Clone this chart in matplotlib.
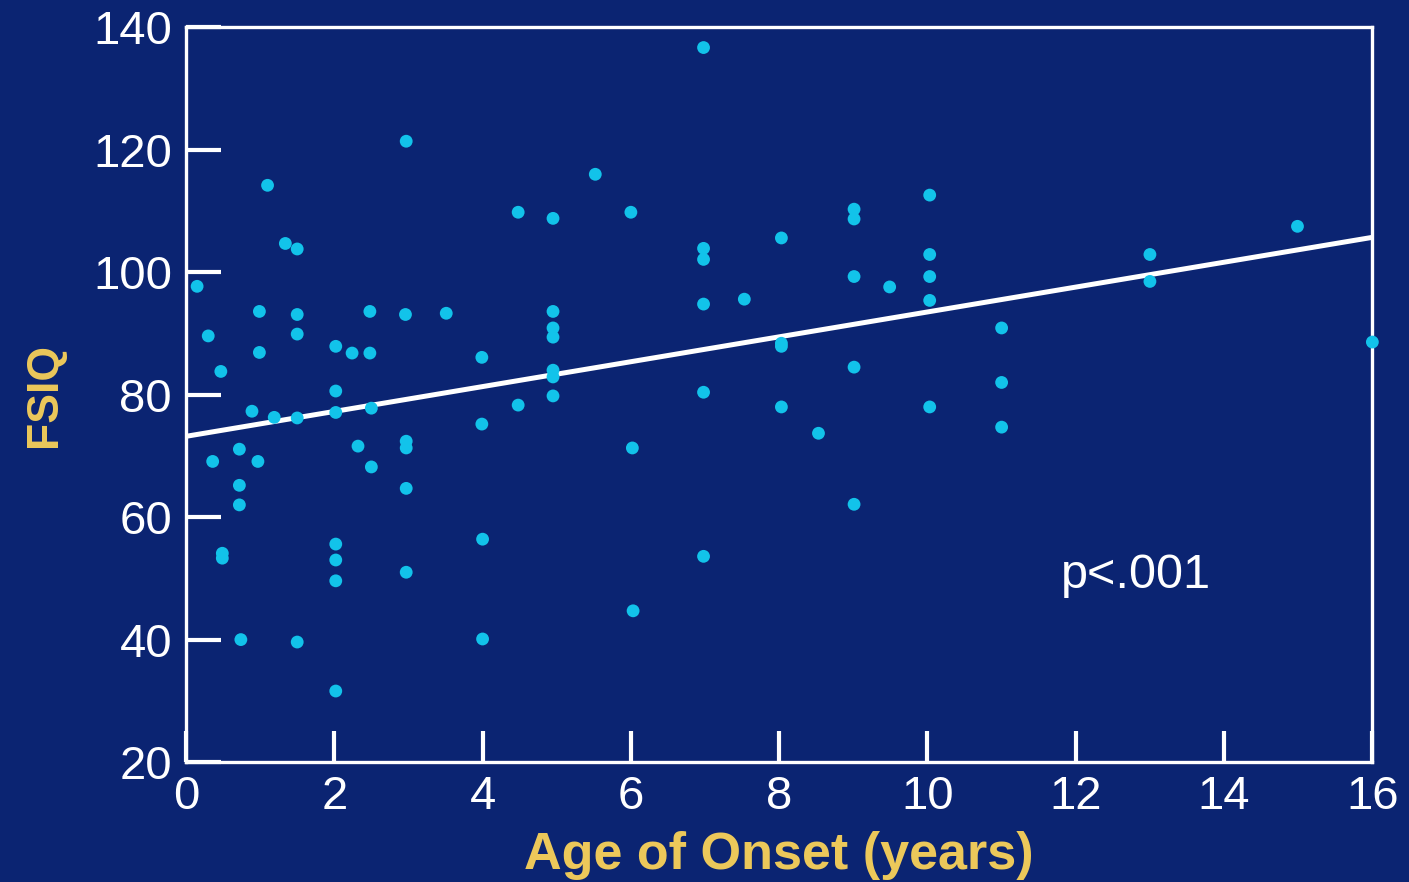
import matplotlib
matplotlib.use("Agg")
import matplotlib.pyplot as plt

# Edad de inicio (años) y FSIQ
onset = [0.15, 0.3, 0.47, 0.36, 0.49, 0.49, 0.72, 0.72, 0.72, 0.74,
         0.89, 0.97, 0.99, 0.99, 1.1, 1.19, 1.34, 1.5, 1.5, 1.5,
         1.5, 1.5, 2.02, 2.02, 2.02, 2.24, 2.48, 2.48, 2.5, 2.32,
         2.5, 2.02, 2.02, 2.02, 2.02, 2.97, 2.96, 2.97, 2.97, 2.97,
         2.97, 3.51, 3.99, 3.99, 4.0, 4.0, 4.48, 4.48, 4.95, 4.95,
         4.95, 4.95, 4.95, 4.95, 4.95, 5.52, 6.0, 6.02, 6.03, 6.98,
         6.98, 6.98, 6.98, 6.98, 6.98, 7.53, 8.03, 8.03, 8.03, 8.03,
         8.53, 9.01, 9.01, 9.01, 9.01, 9.01, 9.49, 10.03, 10.03, 10.03,
         10.03, 10.03, 11.0, 11.0, 11.0, 13.0, 13.0, 14.99, 16.0]
fsiq = [97.7, 89.6, 83.8, 69.1, 54.1, 53.3, 71.1, 65.2, 62.0, 40.0,
        77.3, 69.1, 93.6, 86.9, 114.2, 76.3, 104.7, 103.8, 93.1, 89.9,
        76.2, 39.6, 87.9, 80.6, 77.1, 86.8, 86.8, 93.6, 77.8, 71.6,
        68.2, 55.6, 53.0, 49.6, 31.6, 121.4, 93.1, 72.4, 71.3, 64.7,
        51.0, 93.3, 86.1, 75.2, 56.4, 40.1, 109.8, 78.3, 108.8, 93.6,
        90.9, 89.4, 84.0, 82.9, 79.8, 116.0, 109.8, 71.3, 44.7, 136.7,
        103.9, 102.1, 94.8, 80.4, 53.6, 95.6, 105.6, 88.4, 87.9, 78.0,
        73.7, 110.3, 108.7, 99.3, 84.5, 62.1, 97.6, 112.6, 102.9, 99.3,
        95.4, 78.0, 90.9, 82.0, 74.7, 102.9, 98.5, 107.5, 88.6]

# Recta de regresión (extremos leídos)
fit_x = [0, 16]
fit_y = [73.2, 105.7]

xticks = list(range(0, 17, 2))
yticks = list(range(20, 141, 20))

bg = "#0b2472"
yellow = "#ecc85a"

plt.rcParams['font.family'] = ['Liberation Sans', 'DejaVu Sans']

fig = plt.figure(figsize=(14.09, 8.82), dpi=100)
fig.patch.set_facecolor(bg)
ax = fig.add_axes([0.132, 0.136, 0.842, 0.833])
ax.set_facecolor(bg)

ax.plot(fit_x, fit_y, color="white", linewidth=3.6, zorder=2,
        solid_capstyle="butt")
ax.scatter(onset, fsiq, s=85, color="#12c3ea", edgecolors="none",
           zorder=3, clip_on=False)

ax.set_xlim(0, 16)
ax.set_ylim(20, 140)
ax.set_xticks(xticks)
ax.set_yticks(yticks)

for s in ax.spines.values():
    s.set_color("white")
    s.set_linewidth(2.4)

ax.tick_params(axis="both", direction="in", colors="white",
               labelsize=34, width=3)
ax.tick_params(axis="x", length=22, pad=9)
ax.tick_params(axis="y", length=25, pad=10)

ax.set_xlabel("Age of Onset (years)", color=yellow, fontsize=37.5,
              fontweight="bold", labelpad=9)
ax.set_ylabel("FSIQ", color=yellow, fontsize=32, fontweight="bold",
              labelpad=20)

ax.text(11.8, 50.5, "p<.001", color="white", fontsize=35, va="center")

fig.savefig("out.png", dpi=100, facecolor=bg)
